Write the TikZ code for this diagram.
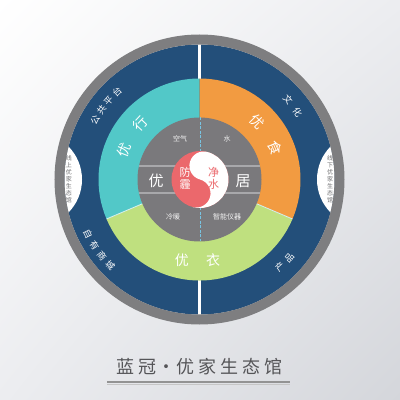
\documentclass[tikz,border=0pt]{standalone}
\usepackage{fontspec}
\usetikzlibrary{shadings}
\newfontfamily\cjk{Noto Sans CJK SC}
\definecolor{bgdark}{RGB}{212,214,219}
\definecolor{bgmid}{RGB}{236,237,240}
\definecolor{navy}{RGB}{35,79,122}
\definecolor{ringgray}{RGB}{126,126,128}
\definecolor{tealc}{RGB}{82,200,200}
\definecolor{orangec}{RGB}{242,155,65}
\definecolor{greenc}{RGB}{191,224,127}
\definecolor{innergray}{RGB}{122,121,124}
\definecolor{redc}{RGB}{235,104,108}
\definecolor{bandc}{RGB}{168,168,171}
\definecolor{dashc}{RGB}{120,196,226}
\definecolor{lenstext}{RGB}{110,110,112}
\definecolor{titlec}{RGB}{85,85,88}
\begin{document}
\begin{tikzpicture}[x=1pt,y=1pt,
  ringtxt/.style={text=white,font=\cjk\fontsize{9}{9}\selectfont,inner sep=0pt},
  bigtxt/.style={text=white,font=\cjk\fontsize{14}{14}\selectfont,inner sep=0pt},
  smalltxt/.style={text=white!92!gray,font=\cjk\fontsize{7}{7}\selectfont,inner sep=0pt},
  lenstxt/.style={text=lenstext,font=\cjk\fontsize{6}{7}\selectfont,inner sep=0pt,align=center},
  yytxt/.style={font=\cjk\fontsize{11}{12}\selectfont,inner sep=0pt,align=center},
  sepline/.style={draw=white!75!tealc,line width=0.8pt},
  bandline/.style={draw=bandc,line width=1.4pt}]
\useasboundingbox (0,0) rectangle (400,400);
\shade[upper left=white,upper right=bgmid,lower left=bgmid,lower right=bgdark] (0,0) rectangle (400,400);
\begin{scope}[shift={(199.5,220.5)}]
  % blue ring
  \fill[navy] (0,0) circle (135);
  \begin{scope}
    \clip (0,0) circle (135);
    \fill[white] (-164.5,0) circle (47);
    \fill[white] (164.5,0) circle (47);
  \end{scope}
  \draw[white,line width=2.5pt] (90:100) -- (90:136);
  \draw[white,line width=2.5pt] (270:100) -- (270:136);
  % outer gray ring
  \draw[ringgray,line width=10pt] (0,0) circle (140);
  % coloured sectors
  \fill[tealc] (0,0) -- (90:101) arc[start angle=90,end angle=203,radius=101] -- cycle;
  \fill[greenc] (0,0) -- (203:101) arc[start angle=203,end angle=337,radius=101] -- cycle;
  \fill[orangec] (0,0) -- (-23:101) arc[start angle=-23,end angle=90,radius=101] -- cycle;
  \draw[sepline] (203:60) -- (203:101);
  \draw[sepline] (-23:60) -- (-23:101);
  % inner gray disc
  \fill[innergray] (0,0) circle (62);
  \draw[bandline] (-60.5,13.5) -- (60.5,13.5);
  \draw[bandline] (-60.5,-13.5) -- (60.5,-13.5);
  \draw[dashc,line width=0.8pt,dash pattern=on 3pt off 1.5pt] (0.5,62) -- (0.5,-62);
  % yin-yang
  \begin{scope}[shift={(0.5,0)}]
    \fill[redc] (0,0) circle (28.5);
    \fill[white,rotate=-15] (0,28.5) arc[start angle=90,end angle=-90,radius=28.5]
      arc[start angle=-90,end angle=90,radius=14.25]
      arc[start angle=-90,end angle=-270,radius=14.25] -- cycle;
    \node[yytxt,text=white] (fangmai) at (-15,1.5) {防\\霾};
    \node[yytxt,text=redc] (jingshui) at (13.5,1.5) {净\\水};
  \end{scope}
  % inner texts
  \node[smalltxt] (kongqi) at (-19.5,40.5) {空气};
  \node[smalltxt] (shui) at (27.5,40.5) {水};
  \node[smalltxt] (lengnuan) at (-26.5,-37.5) {冷暖};
  \node[smalltxt] (zhineng) at (27.5,-37.5) {智能仪器};
  \node[bigtxt,font=\cjk\fontsize{15}{15}\selectfont] (you0) at (-43.5,-1.5) {优};
  \node[bigtxt,font=\cjk\fontsize{15}{15}\selectfont] (ju) at (43.5,-1.5) {居};
  % coloured ring texts
  \foreach \ch/\a [count=\i] in {优/159,行/137}
    \node[bigtxt,rotate=\a-90] (xing\i) at (\a:81) {\ch};
  \foreach \ch/\a [count=\i] in {优/45,食/23}
    \node[bigtxt,rotate=\a-90] (shi\i) at (\a:82) {\ch};
  \node[bigtxt] (yi1) at (-17.5,-80.5) {优};
  \node[bigtxt] (yi2) at (13.5,-80.5) {衣};
  % blue ring texts
  \foreach \ch/\a [count=\i] in {公/150.5,共/144.8,平/139.1,台/133.4}
    \node[ringtxt,rotate=\a-90] (gg\i) at (\a:120) {\ch};
  \foreach \ch/\a [count=\i] in {文/42,化/34.5}
    \node[ringtxt,rotate=\a-90] (wh\i) at (\a:119) {\ch};
  \foreach \ch/\a [count=\i] in {自/206,有/212,商/218,城/224}
    \node[ringtxt,rotate=\a+90] (zy\i) at (\a:124) {\ch};
  \foreach \ch/\a [count=\i] in {产/312.5,品/319}
    \node[ringtxt,rotate=\a+90] (cp\i) at (\a:119) {\ch};
  % lens texts
  \node[lenstxt] (xianshang) at (-130.5,0) {线\\上\\优\\家\\生\\态\\馆};
  \node[lenstxt] (xianxia) at (130.5,0) {线\\下\\优\\家\\生\\态\\馆};
\end{scope}
% title
\node[text=titlec,font=\cjk\fontsize{18}{18}\selectfont,inner sep=0pt] (title) at (200,33)
  {蓝\hspace{4pt}冠\hspace{1pt}·\hspace{1pt}优\hspace{4pt}家\hspace{4pt}生\hspace{4pt}态\hspace{4pt}馆};
\coordinate (ulA) at (107,18);
\coordinate (ulB) at (290,18);
\coordinate (ulC) at (107,15.6);
\coordinate (ulD) at (290,15.6);
\draw[draw=gray!85,line width=1.3pt] (ulA) -- (ulB);
\draw[draw=gray!45,line width=1pt] (ulC) -- (ulD);
\end{tikzpicture}
\end{document}
